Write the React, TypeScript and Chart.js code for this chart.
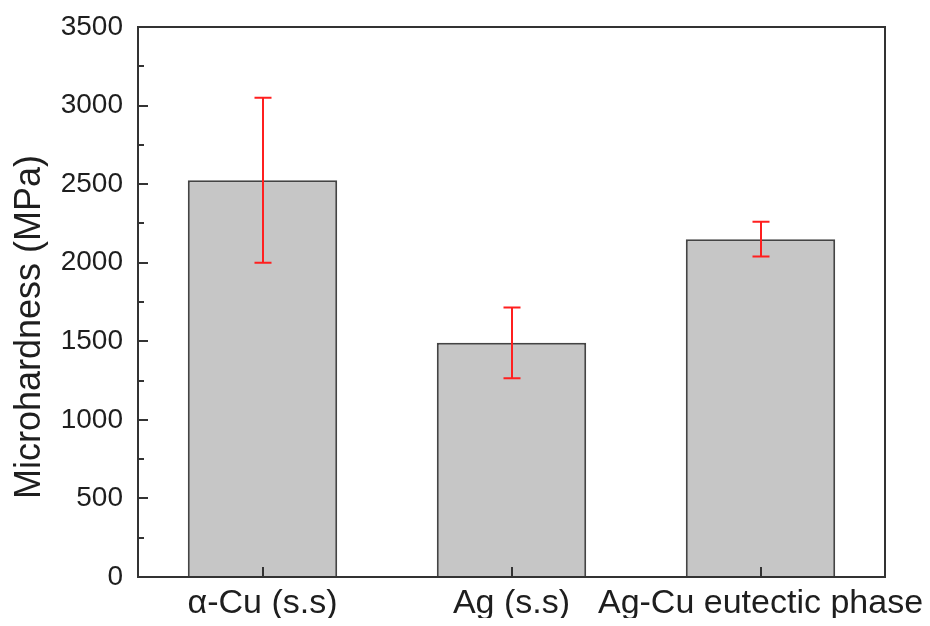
import React, { useEffect, useRef } from "react";
import { Chart, registerables } from "chart.js";

Chart.register(...registerables);

// Phases and their measured microhardness (MPa) with standard deviation
const phases = ["α-Cu (s.s)", "Ag (s.s)", "Ag-Cu eutectic phase"];
const hardness = [2525, 1490, 2150];
const hardnessErr = [525, 225, 110];

// Y axis range and tick spacing
const yMin = 0;
const yMax = 3500;
const majorStep = 500;
const minorStep = 250;

// Trailing spaces nudge the rotated axis title toward the lower end of the axis
const yTitle = "Microhardness (MPa)" + "\u00a0".repeat(5);

const FONT = "'Liberation Sans', Arial, Helvetica, sans-serif";
const INK = "#1e1e1e";

// Draws error bars, the closed frame and inward-pointing tick marks
const framePlugin = {
  id: "frameAndTicks",
  afterDraw(chart: any) {
    const { ctx, chartArea: a, scales } = chart;
    const x = scales.x;
    const y = scales.y;
    ctx.save();

    // error bars
    ctx.strokeStyle = "#ff1f1f";
    ctx.lineWidth = 2;
    const cap = 8.5;
    hardness.forEach((v, i) => {
      const cx = Math.round(x.getPixelForTick(i));
      const top = y.getPixelForValue(v + hardnessErr[i]);
      const bot = y.getPixelForValue(v - hardnessErr[i]);
      ctx.beginPath();
      ctx.moveTo(cx, top);
      ctx.lineTo(cx, bot);
      ctx.moveTo(cx - cap, top);
      ctx.lineTo(cx + cap, top);
      ctx.moveTo(cx - cap, bot);
      ctx.lineTo(cx + cap, bot);
      ctx.stroke();
    });

    // frame
    ctx.strokeStyle = "#333333";
    ctx.lineWidth = 2;
    ctx.strokeRect(a.left, a.top, a.right - a.left, a.bottom - a.top);

    // y ticks (major and minor, pointing inward)
    ctx.beginPath();
    y.ticks.forEach((t: any) => {
      const py = Math.round(y.getPixelForValue(t.value));
      const len = t.value % majorStep === 0 ? 10 : 6;
      ctx.moveTo(a.left, py);
      ctx.lineTo(a.left + len, py);
    });
    // x ticks at category centres
    x.ticks.forEach((_t: any, i: number) => {
      const px = Math.round(x.getPixelForTick(i));
      ctx.moveTo(px, a.bottom);
      ctx.lineTo(px, a.bottom - 10);
    });
    ctx.stroke();
    ctx.restore();
  },
};

export default function App() {
  const canvasRef = useRef<HTMLCanvasElement | null>(null);

  useEffect(() => {
    if (!canvasRef.current) return;
    const chart = new Chart(canvasRef.current, {
      type: "bar",
      data: {
        labels: phases,
        datasets: [
          {
            data: hardness,
            backgroundColor: "#c6c6c6",
            borderColor: "#444444",
            borderWidth: 2,
            barPercentage: 0.6,
            categoryPercentage: 1,
          },
        ],
      },
      options: {
        animation: false,
        responsive: true,
        maintainAspectRatio: false,
        layout: { padding: { top: 19, right: 37, left: 0, bottom: 0 } },
        plugins: {
          legend: { display: false },
          tooltip: { enabled: false },
        },
        scales: {
          x: {
            grid: { display: false, drawTicks: false },
            border: { display: false },
            ticks: {
              font: { family: FONT, size: 34 },
              color: INK,
              maxRotation: 0,
              minRotation: 0,
              autoSkip: false,
              padding: 6,
            },
            afterFit(s: any) {
              s.height = 41;
              s.paddingLeft = 0;
              s.paddingRight = 0;
            },
          },
          y: {
            min: yMin,
            max: yMax,
            grid: { display: false, drawTicks: false },
            border: { display: false },
            ticks: {
              stepSize: minorStep,
              callback: (v: any) => (Number(v) % majorStep === 0 ? String(v) : ""),
              font: { family: FONT, size: 28 },
              color: INK,
              padding: 15,
            },
            title: {
              display: true,
              text: yTitle,
              font: { family: FONT, size: 36 },
              color: INK,
              padding: { top: 0, bottom: 0 },
            },
            afterFit(s: any) {
              s.width = 130;
              s.paddingTop = 0;
              s.paddingBottom = 0;
            },
          },
        },
      },
      plugins: [framePlugin],
    });
    return () => chart.destroy();
  }, []);

  return (
    <div style={{ position: "relative", width: 914, height: 610 }}>
      <canvas ref={canvasRef} />
    </div>
  );
}
